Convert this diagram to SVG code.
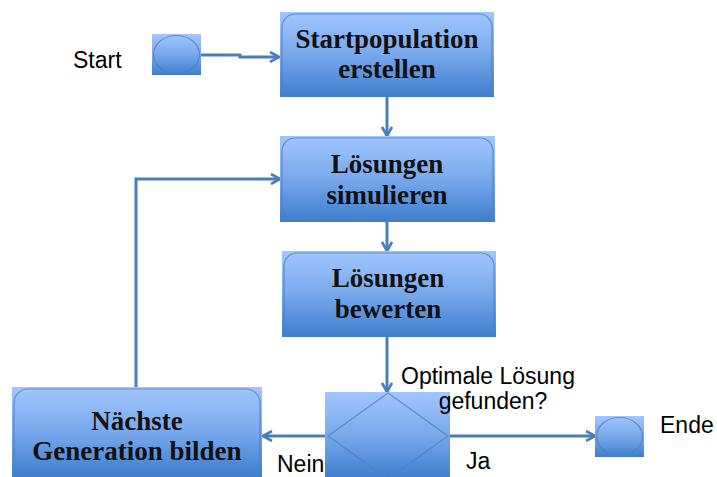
<svg xmlns="http://www.w3.org/2000/svg" width="717" height="477" viewBox="0 0 717 477">
  <defs>
    <linearGradient id="fillBlue" x1="0" y1="0" x2="0" y2="1">
      <stop offset="0" stop-color="#a2c6ff"/>
      <stop offset="0.5" stop-color="#78a8ec"/>
      <stop offset="1" stop-color="#3e7dcc"/>
    </linearGradient>
    <marker id="arrow" viewBox="0 0 12 12" refX="10" refY="6" markerWidth="12" markerHeight="12" markerUnits="userSpaceOnUse" orient="auto">
      <path d="M1,1 L10,6 L1,11" fill="none" stroke="#4a7ebb" stroke-width="2.6" stroke-linejoin="miter"/>
    </marker>
  </defs>
  <style>
    .box { fill: url(#fillBlue); }
    .outline { fill: none; stroke: #4f7fbd; stroke-width: 1.2; stroke-opacity: 0.8; }
    .node-text { font-family: "Liberation Serif", "Times New Roman", serif; font-weight: bold; font-size: 27px; fill: #111; text-anchor: middle; }
    .label { font-family: "Liberation Sans", Arial, sans-serif; font-size: 23px; fill: #000; }
    .conn { fill: none; stroke: #4a7ebb; stroke-width: 3; marker-end: url(#arrow); }
  </style>

  <rect width="717" height="477" fill="#fff"/>

  <!-- connectors -->
  <g id="connectors">
    <path class="conn" d="M201,55 H240 V57 H279"/>
    <path class="conn" d="M387,97 V136"/>
    <path class="conn" d="M387,222 V251"/>
    <path class="conn" d="M387,337 V392"/>
    <path class="conn" d="M136,387 V179 H280"/>
    <path class="conn" d="M326,436 H263"/>
    <path class="conn" d="M450,436 H595"/>
  </g>

  <!-- start terminal -->
  <g id="start">
    <rect class="box" x="152" y="34" width="49" height="41"/>
    <ellipse class="outline" cx="176.5" cy="54.5" rx="23" ry="19"/>
    <text class="label" x="73" y="68">Start</text>
  </g>

  <g id="startpopulation">
    <rect class="box" x="280" y="12" width="214" height="85"/>
    <rect class="outline" x="282" y="14" width="210" height="81" rx="13"/>
    <text class="node-text" x="387" y="48">Startpopulation</text>
    <text class="node-text" x="387" y="78">erstellen</text>
  </g>

  <g id="simulieren">
    <rect class="box" x="280" y="136" width="215" height="86"/>
    <rect class="outline" x="282" y="138" width="211" height="82" rx="13"/>
    <text class="node-text" x="387" y="173">Lösungen</text>
    <text class="node-text" x="387" y="204">simulieren</text>
  </g>

  <g id="bewerten">
    <rect class="box" x="282" y="251" width="214" height="86"/>
    <rect class="outline" x="284" y="253" width="210" height="82" rx="13"/>
    <text class="node-text" x="388" y="287">Lösungen</text>
    <text class="node-text" x="388" y="318">bewerten</text>
  </g>

  <g id="entscheidung">
    <rect class="box" x="325" y="392" width="125" height="87"/>
    <path class="outline" d="M388,393 L448,436 L388,479 L328,436 Z"/>
    <text class="label" x="488" y="384" text-anchor="middle">Optimale Lösung</text>
    <text class="label" x="493" y="409" text-anchor="middle">gefunden?</text>
    <text class="label" x="277" y="472">Nein</text>
    <text class="label" x="466" y="469">Ja</text>
  </g>

  <g id="naechste-generation">
    <rect class="box" x="12" y="387" width="250" height="90"/>
    <rect class="outline" x="14" y="389" width="246" height="86" rx="14"/>
    <text class="node-text" x="137" y="430">Nächste</text>
    <text class="node-text" x="137" y="460">Generation bilden</text>
  </g>

  <!-- end terminal -->
  <g id="ende">
    <rect class="box" x="595" y="416" width="49" height="41"/>
    <ellipse class="outline" cx="619.5" cy="436.5" rx="23" ry="19"/>
    <text class="label" x="660" y="433">Ende</text>
  </g>
</svg>
